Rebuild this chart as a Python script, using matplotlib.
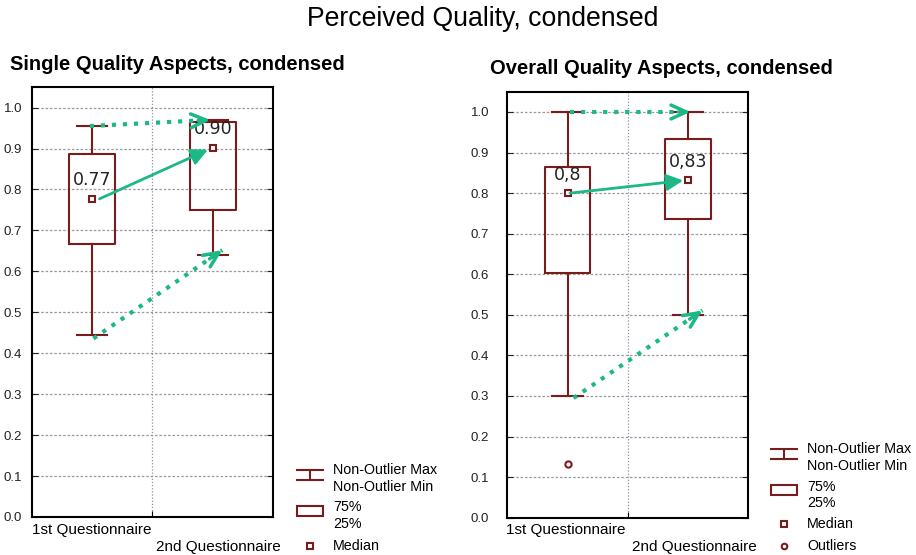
import matplotlib.pyplot as plt
from matplotlib.patches import Rectangle
import numpy as np

# box statistics
groups = ["1st Questionnaire", "2nd Questionnaire"]
single_q1 = [0.668, 0.750]
single_q3 = [0.886, 0.965]
single_med = [0.777, 0.902]
single_lo = [0.444, 0.640]
single_hi = [0.955, 0.970]
single_fliers = [[], []]
single_labels = ["0.77", "0.90"]

overall_q1 = [0.602, 0.736]
overall_q3 = [0.865, 0.933]
overall_med = [0.800, 0.832]
overall_lo = [0.300, 0.500]
overall_hi = [1.000, 1.000]
overall_fliers = [[0.133], []]
overall_labels = ["0,8", "0,83"]

# green arrows (x in category units, y in value units): start, end
single_solid = [(1.06, 0.777), (1.96, 0.897)]
single_dotted = [[(0.98, 0.955), (1.98, 0.970)], [(1.01, 0.436), (2.08, 0.652)]]
overall_solid = [(1.02, 0.800), (1.96, 0.831)]
overall_dotted = [[(1.02, 1.000), (2.02, 1.000)], [(1.05, 0.295), (2.12, 0.511)]]

maroon = '#7b1c1c'
green = '#1db887'

plt.rcParams['font.family'] = ['Liberation Sans', 'DejaVu Sans']

fig = plt.figure(figsize=(9.16, 5.55), dpi=100)
fig.text(483 / 916, 1 - 19 / 555, "Perceived Quality, condensed", ha='center', va='center', fontsize=19.2)


def draw_panel(ax, q1, q3, med, lo, hi, fliers, labels, solid, dotted, pad):
    stats = []
    for i in range(len(groups)):
        stats.append(dict(med=med[i], q1=q1[i], q3=q3[i], whislo=lo[i], whishi=hi[i], fliers=fliers[i]))
    pos = [1, 2]
    ax.bxp(stats, positions=pos, widths=0.38, capwidths=0.25, showfliers=True,
           boxprops=dict(color=maroon, lw=1.5),
           whiskerprops=dict(color=maroon, lw=1.5),
           capprops=dict(color=maroon, lw=1.5),
           medianprops=dict(visible=False),
           flierprops=dict(marker='o', ms=4.5, mfc='white', mec=maroon, mew=1.5))
    ax.plot(pos, med, 's', ms=4.5, mfc='white', mec=maroon, mew=1.5, zorder=5)
    for p, m, lab in zip(pos, med, labels):
        ax.text(p, m + 0.045, lab, ha='center', va='center', fontsize=12.5, color='#222222',
                family='DejaVu Sans', zorder=6)

    # arrows
    ax.annotate("", xy=solid[1], xytext=solid[0],
                arrowprops=dict(arrowstyle='-|>,head_length=1.0,head_width=0.5', color=green, lw=2,
                                shrinkA=0, shrinkB=0), zorder=7)
    for (s, e) in dotted:
        ax.plot([s[0], e[0]], [s[1], e[1]], ':', color=green, lw=3, zorder=7)
        dx, dy = e[0] - s[0], e[1] - s[1]
        ax.annotate("", xy=e, xytext=(e[0] - 0.1 * dx, e[1] - 0.1 * dy),
                    arrowprops=dict(arrowstyle='->,head_length=1.1,head_width=0.5', color=green, lw=2.5,
                                    shrinkA=0, shrinkB=0), zorder=7)

    ax.set_xlim(0.5, 2.5)
    ax.set_ylim(0, 1.05)
    ax.set_yticks(np.arange(0, 1.01, 0.1))
    ax.set_yticklabels(["%.1f" % v for v in np.arange(0, 1.01, 0.1)], fontsize=9.5)
    ax.set_xticks([1.5])
    ax.set_xticklabels([])
    ax.tick_params(axis='y', direction='in', left=True, right=True, length=4, pad=pad, colors='#222222')
    ax.tick_params(axis='x', direction='in', length=4)
    ax.yaxis.grid(True, linestyle=(0, (2, 1.5)), color='#9a9a9a', lw=0.9)
    ax.xaxis.grid(True, linestyle=(0, (1, 1.5)), color='#8a93b0', lw=0.9)
    ax.set_axisbelow(True)
    for sp in ax.spines.values():
        sp.set_linewidth(1.5)


def xlabels(left_px, right_px):
    fig.text(left_px / 916, 1 - 530 / 555, groups[0], ha='left', va='center', fontsize=11)
    fig.text(right_px / 916, 1 - 547 / 555, groups[1], ha='right', va='center', fontsize=11)


ax1 = fig.add_axes([0.0349, 0.0685, 0.2631, 0.7745])
draw_panel(ax1, single_q1, single_q3, single_med, single_lo, single_hi, single_fliers,
           single_labels, single_solid, single_dotted, 7)
xlabels(32, 281)
ax2 = fig.add_axes([0.5538, 0.0672, 0.2631, 0.7676])
draw_panel(ax2, overall_q1, overall_q3, overall_med, overall_lo, overall_hi, overall_fliers,
           overall_labels, overall_solid, overall_dotted, 13)
xlabels(506, 757)

fig.text(10 / 916, 1 - 65 / 555, "Single Quality Aspects, condensed", ha='left', va='center',
         fontsize=14.5, fontweight='bold')
fig.text(490 / 916, 1 - 68 / 555, "Overall Quality Aspects, condensed", ha='left', va='center',
         fontsize=14.5, fontweight='bold')

# legends, drawn in pixel space
lg = fig.add_axes([0, 0, 1, 1])
lg.set_xlim(0, 916)
lg.set_ylim(555, 0)
lg.axis('off')


def legend(x0, ys, with_outliers):
    ymax, ymin, y75, y25, ymed = ys[:5]
    yc = (ymax + ymin) / 2 - 4
    lg.plot([x0, x0 + 26], [yc - 5, yc - 5], color=maroon, lw=1.5)
    lg.plot([x0, x0 + 26], [yc + 5, yc + 5], color=maroon, lw=1.5)
    lg.plot([x0 + 13, x0 + 13], [yc - 5, yc + 5], color=maroon, lw=1.5)
    yb = (y75 + y25) / 2 - 5
    lg.add_patch(Rectangle((x0, yb - 5), 26, 10, fill=False, ec=maroon, lw=1.5))
    lg.plot([x0 + 13], [ymed], 's', ms=4, mfc='white', mec=maroon, mew=1.5)
    tx = x0 + 36
    for y, t in zip(ys, ["Non-Outlier Max", "Non-Outlier Min", "75%", "25%", "Median", "Outliers"]):
        lg.text(tx, y, t, ha='left', va='center', fontsize=10.3)
    if with_outliers:
        lg.plot([x0 + 13], [ys[5]], 'o', ms=4, mfc='white', mec=maroon, mew=1.5)


legend(297, [470, 487, 507, 524, 546], False)
legend(771, [449, 466, 487, 503, 524, 546], True)

fig.savefig("out.png", dpi=100)
